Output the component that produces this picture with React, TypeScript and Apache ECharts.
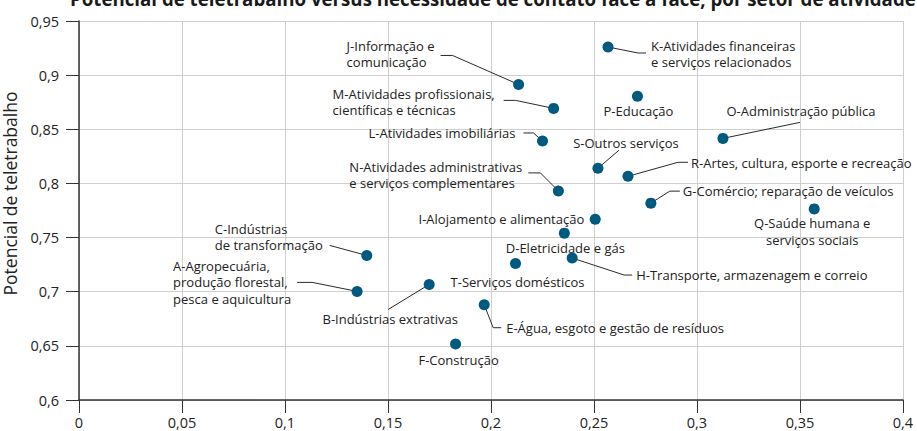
import React, { useEffect, useRef } from "react";
import * as echarts from "echarts";

// Sector labels (letter code + name)
const sectors: string[] = [
  "A-Agropecuária,\nprodução florestal,\npesca e aquicultura",
  "B-Indústrias extrativas",
  "C-Indústrias\nde transformação",
  "D-Eletricidade e gás",
  "E-Água, esgoto e gestão de resíduos",
  "F-Construção",
  "G-Comércio; reparação de veículos",
  "H-Transporte, armazenagem e correio",
  "I-Alojamento e alimentação",
  "J-Informação e\ncomunicação",
  "K-Atividades financeiras\ne serviços relacionados",
  "L-Atividades imobiliárias",
  "M-Atividades profissionais,\ncientíficas e técnicas",
  "N-Atividades administrativas\ne serviços complementares",
  "O-Administração pública",
  "P-Educação",
  "Q-Saúde humana e\nserviços sociais",
  "R-Artes, cultura, esporte e recreação",
  "S-Outros serviços",
  "T-Serviços domésticos",
];

// x: need for face-to-face contact
const contactNeed: number[] = [
  0.135, 0.17, 0.1397, 0.2356, 0.1967, 0.1828, 0.2776, 0.2394, 0.2506, 0.2134,
  0.2568, 0.225, 0.2304, 0.2327, 0.3126, 0.2711, 0.3569, 0.2665, 0.2519, 0.2119,
];

// y: telework potential
const teleworkPotential: number[] = [
  0.7003, 0.7067, 0.7335, 0.7541, 0.688, 0.6518, 0.7818, 0.7311, 0.767, 0.8914,
  0.926, 0.8392, 0.8693, 0.7931, 0.8416, 0.8806, 0.7765, 0.8066, 0.814, 0.7261,
];

const xTicks = [0, 0.05, 0.1, 0.15, 0.2, 0.25, 0.3, 0.35, 0.4];
const yTicks = [0.6, 0.65, 0.7, 0.75, 0.8, 0.85, 0.9, 0.95];

const TITLE =
  "Potencial de teletrabalho versus necessidade de contato face a face, por setor de atividade";
const Y_NAME = "Potencial de teletrabalho";

// Label placement (pixel offsets relative to each point) and leader lines
type Lay = { dx: number; dy: number; align: "left" | "center" | "right"; line?: number[][] };
const LAYOUT: Lay[] = [
  { dx: -184, dy: -9, align: "left", line: [[-60, -9], [-45, -9], [0, 0]] }, // A
  { dx: -39, dy: 35, align: "center", line: [[0, 0], [-41, 25]] }, // B
  { dx: -152, dy: -18.5, align: "left", line: [[-37, -10], [0, 0]] }, // C
  { dx: 1, dy: 15, align: "center" }, // D
  { dx: 22, dy: 23, align: "left", line: [[0, 0], [9, 23], [17, 23]] }, // E
  { dx: 3, dy: 16.5, align: "center" }, // F
  { dx: 32, dy: -12, align: "left", line: [[0, 0], [19, -12], [29, -12]] }, // G
  { dx: 64, dy: 17, align: "left", line: [[0, 0], [52, 17], [60, 17]] }, // H
  { dx: -11, dy: 0, align: "right" }, // I
  { dx: -172, dy: -30.5, align: "left", line: [[-78, -29], [-66, -29], [0, 0]] }, // J
  { dx: 43, dy: 7, align: "left", line: [[0, 0], [30, 6], [38, 6]] }, // K
  { dx: -27, dy: -8, align: "right", line: [[-19, -8], [-9, -8], [0, 0]] }, // L
  { dx: -221, dy: -6.5, align: "left", line: [[-50, -8], [-38, -8], [0, 0]] }, // M
  { dx: -209, dy: -16, align: "left", line: [[-30, -18], [-18, -18], [0, 0]] }, // N
  { dx: 78, dy: -27, align: "center", line: [[0, 0], [77, -16]] }, // O
  { dx: 1, dy: 15, align: "center" }, // P
  { dx: -2, dy: 22.5, align: "center" }, // Q
  { dx: 63, dy: -13, align: "left", line: [[0, 0], [50, -14], [60, -14]] }, // R
  { dx: 28, dy: -25, align: "center", line: [[0, 0], [21, -18]] }, // S
  { dx: 2, dy: 19, align: "center" }, // T
];

const FONT = "'Open Sans', 'Noto Sans', sans-serif";
const fmt = (v: number) => String(Number(v.toFixed(2))).replace(".", ",");

export default function App() {
  const ref = useRef<HTMLDivElement>(null);
  useEffect(() => {
    if (!ref.current) return;
    const chart = echarts.init(ref.current, undefined, { renderer: "svg" });
    const points = contactNeed.map((x, i) => [x, teleworkPotential[i], i]);
    chart.setOption({
      animation: false,
      backgroundColor: "#fff",
      textStyle: { fontFamily: FONT },
      title: {
        text: TITLE,
        left: 70,
        top: -11,
        padding: 0,
        textStyle: { fontFamily: FONT, fontWeight: "bold", fontSize: 18.7, color: "#1a1a1a" },
      },
      grid: { left: 79, right: 14, top: 21, bottom: 31, containLabel: false, outerBoundsMode: "none" },
      xAxis: {
        type: "value",
        min: xTicks[0],
        max: xTicks[xTicks.length - 1],
        interval: 0.05,
        axisLine: { show: true, onZero: false, lineStyle: { color: "#333", width: 1.5 } },
        axisTick: { show: true, length: 13, lineStyle: { color: "#333", width: 1 } },
        axisLabel: { formatter: fmt, fontSize: 14.5, color: "#222", margin: 15, fontFamily: FONT },
        splitLine: { show: true, lineStyle: { color: "#cfcfcf", width: 1 } },
      },
      yAxis: {
        type: "value",
        min: yTicks[0],
        max: yTicks[yTicks.length - 1],
        interval: 0.05,
        name: Y_NAME,
        nameLocation: "middle",
        nameGap: 51,
        nameTextStyle: { fontSize: 17.5, color: "#222", fontFamily: FONT, padding: [0, 0, 0, 34] },
        axisLine: { show: true, onZero: false, lineStyle: { color: "#333", width: 1.5 } },
        axisTick: { show: true, length: 13, lineStyle: { color: "#333", width: 1 } },
        axisLabel: { formatter: fmt, fontSize: 14.5, color: "#222", margin: 20, fontFamily: FONT },
        splitLine: { show: true, lineStyle: { color: "#cfcfcf", width: 1 } },
      },
      series: [
        {
          type: "custom",
          z: 2,
          silent: true,
          data: points,
          renderItem: (params: any, api: any) => {
            const i = params.dataIndex;
            const pt = api.coord([api.value(0), api.value(1)]);
            const lay = LAYOUT[i];
            const children: any[] = [];
            if (lay.line) {
              children.push({
                type: "polyline",
                shape: { points: lay.line.map((p) => [pt[0] + p[0], pt[1] + p[1]]) },
                style: { stroke: "#2a2a2a", lineWidth: 1, fill: null },
              });
            }
            children.push({
              type: "text",
              x: pt[0] + lay.dx,
              y: pt[1] + lay.dy,
              style: {
                text: sectors[i],
                align: lay.align,
                verticalAlign: "middle",
                fontSize: 13,
                fontFamily: FONT,
                lineHeight: 16.5,
                fill: "#222",
              },
            });
            return { type: "group", children };
          },
        },
        {
          type: "scatter",
          z: 3,
          data: points,
          symbol: "circle",
          symbolSize: 11,
          itemStyle: { color: "#005a80", opacity: 1 },
        },
      ],
    });
    return () => chart.dispose();
  }, []);
  return <div ref={ref} style={{ width: 917, height: 431, position: "absolute", left: 0, top: 0 }} />;
}
